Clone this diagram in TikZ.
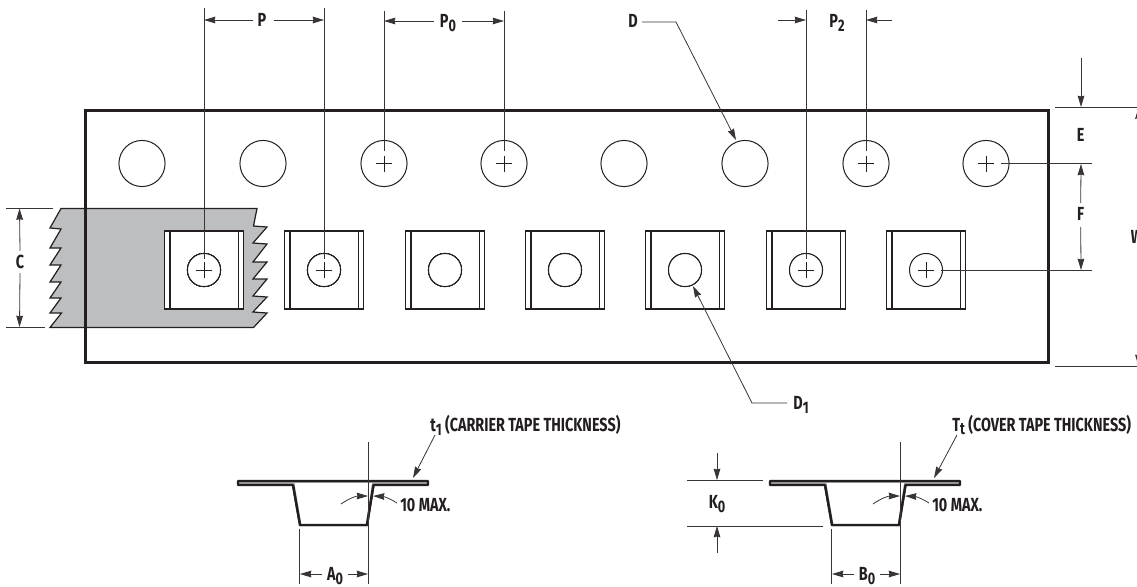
\documentclass[tikz,border=0pt]{standalone}
\usepackage{fontspec}
\setmainfont[FakeStretch=0.76]{Fira Sans}
\usetikzlibrary{arrows.meta}
\definecolor{ink}{HTML}{231F20}
\definecolor{tapegrey}{HTML}{BCBEC0}
\newcommand{\mysub}[1]{\raisebox{-2.8pt}{\fontsize{12.5pt}{13pt}\selectfont #1}}
\tikzset{
 x=0.75pt,y=-0.75pt,
 lab/.style={font=\fontsize{14.2pt}{15pt}\selectfont\bfseries,inner sep=0pt,text=ink},
 dim/.style={draw=ink!90,line width=0.6pt},
 tip/.style={-{Stealth[length=8.5pt,width=5pt,inset=0.6pt]}},
 arr/.style={dim,tip},
 hole/.style={circle,draw=ink,line width=0.75pt,fill=white,minimum size=34.6pt,inner sep=0pt},
 sub/.style={circle,draw=ink,line width=0.75pt,fill=white,minimum size=24.8pt,inner sep=0pt},
 pocket/.style={draw=ink,line width=0.9pt,fill=white},
 plus/.style={draw=ink,line width=0.6pt},
}
\newcommand{\mypocket}[1]{%
 \draw[pocket] (#1-39.5,231) rectangle (#1+39.5,309);
 \draw[draw=ink,line width=0.9pt] (#1-34,231) -- (#1-34,309) (#1+34.5,231) -- (#1+34.5,309);
 \draw[draw=ink,line width=1.2pt] (#1-34,231) -- (#1+34.5,231);
}
\newcommand{\myplus}[2]{\draw[plus] (#1-8,#2) -- (#1+8,#2) (#1,#2-8) -- (#1,#2+8);}
\newcommand{\myprofile}[1]{%
 \draw[draw=ink,fill=black!35,line width=1.7pt,line join=round] (#1,481) -- (#1+190,481) -- (#1+190,485) -- (#1+135.5,485) -- (#1+129,525) -- (#1+62,525) -- (#1+55,485) -- (#1,485) -- cycle;
 \fill[white] (#1+56.5,483) -- (#1+134,483) -- (#1+127.6,524) -- (#1+63.5,524) -- cycle;
 \draw[draw=ink,line width=1.7pt] (#1+55,485) -- (#1+62,525) -- (#1+129,525) -- (#1+135.5,485);
}
\newcommand{\myangle}[1]{%
 \draw[arr] (#1+103,504) .. controls (#1+110,499) and (#1+118,496) .. (#1+130,496);
 \draw[arr] (#1+159,503) .. controls (#1+153,499) and (#1+146,496.5) .. (#1+135,496);
}
\begin{document}
\begin{tikzpicture}
\path[use as bounding box] (0,0) rectangle (1137,586);
\clip (0,0) rectangle (1137,586);
\fill[white] (0,0) rectangle (1137,586);
% grey cover tape
\draw[draw=ink,line width=0.9pt,fill=tapegrey,line join=miter]
 (61,208.5) -- (257,208.5) -- (253.5,226) -- (267,227) -- (253,243) -- (267,244) -- (253,262) -- (267,262) -- (253,279) -- (267,279) -- (253,296) -- (267,297) -- (253,312) -- (267,313) -- (253.5,327.5) -- (50,327.5)
 -- (61.5,313) -- (50,313) -- (61,298) -- (50,298) -- (61,282) -- (50,282) -- (61,265) -- (50,265) -- (61,248) -- (50,248) -- (61,229) -- (50,228) -- cycle;
% extension lines for C
\draw[dim] (6,208) -- (53,208) (6,327.5) -- (45,327.5);
\node[lab] (c) at (20,262) {C};
\draw[arr] (c.north) ++(0,-4) -- (19.5,208.5);
\draw[arr] (c.south) ++(0,4) -- (19.5,327);
% tape outline
\draw[draw=ink,line width=2.2pt] (85.7,110.3) rectangle (1048.3,362.5);
% sprocket holes
\foreach \x/\n in {142/h1,263/h2,384/h3,504/h4,624/h5,745/h6,866/h7,986/h8}
 \node[hole] (\n) at (\x,163.5) {};
\foreach \x in {384,504,866,986} \myplus{\x}{163.5}
% pockets
\foreach \x in {204,324,445,565,685,806,926} \mypocket{\x}
\foreach \x/\n in {204/s1,324/s2,445/s3,565/s4,685/s5,806/s6,926/s7}
 \node[sub] (\n) at (\x,270) {};
\foreach \x in {204,324,806,926} \myplus{\x}{270}
% centre lines and extension lines
\draw[dim] (204,8) -- (204,259) (324,8) -- (324,259);
\draw[dim] (384,11) -- (384,151) (504,11) -- (504,151);
\draw[dim] (806,10) -- (806,259) (866,10) -- (866,151);
\draw[dim] (1001,163.5) -- (1092,163.5);
\draw[dim] (941,270.5) -- (1092,270.5);
\draw[dim] (1055,107) -- (1137,107);
\draw[dim] (1055,366) -- (1137,366);
% P
\node[lab] (p) at (262,20) {P};
\draw[arr] (p.west) ++(-4,0) -- (204,20);
\draw[arr] (p.east) ++(7,0) -- (324,20);
% P0
\node[lab] (p0) at (448,23) {P\mysub{0}};
\draw[arr] (434,21) -- (384,21);
\draw[arr] (462,21) -- (504,21);
% P2
\node[lab] (p2) at (837,23) {P\mysub{2}};
\draw[arr] (778,20) -- (806,20);
\draw[arr] (892,20) -- (866,20);
% D
\node[lab] (d) at (633,21) {D};
\coordinate (dk) at (676,22);
\coordinate (dt) at (736,140);
\draw[arr] (642,22) -- (dk) -- (dt);
% D1
\node[lab] (d1) at (801,405) {D\mysub{1}};
\coordinate (dk1) at (752,403);
\coordinate (dt1) at (693,286);
\draw[arr] (787,403) -- (dk1) -- (dt1);
% E F W
\draw[arr] (1081,58) -- (1081,107);
\node[lab] (e) at (1080.7,135) {E};
\node[lab] (f) at (1080.7,214) {F};
\draw[arr] (f.north) ++(0,-4) -- (1081,164);
\draw[arr] (f.south) ++(0,6) -- (1081,270);
\node[lab] (w) at (1137,237) {W};
\draw[arr] (1138.5,200) -- (1138.5,107.5);
\draw[arr] (1138.5,280) -- (1138.5,366);
% profiles
\myprofile{238}
\myprofile{770}
\myangle{238}
\myangle{770}
\draw[dim] (368,442) -- (368,584) (299.5,529) -- (299.5,584);
\draw[dim] (900.5,442) -- (900.5,584) (831.5,529) -- (831.5,584);
\node[lab] (a0) at (335,576) {A\mysub{0}};
\draw[arr] (322,574) -- (300,574);
\draw[arr] (348,574) -- (368,574);
\node[lab] (b0) at (867,576) {B\mysub{0}};
\draw[arr] (854,574) -- (832,574);
\draw[arr] (880,574) -- (900,574);
\node[lab,anchor=west] (m1) at (400,505) {10 MAX.};
\node[lab,anchor=west] (m2) at (932,505) {10 MAX.};
\node[lab,anchor=west] (t1) at (430,425) {t\mysub{1} (CARRIER TAPE THICKNESS)};
\node[lab,anchor=west] (tt) at (952,425) {T\mysub{t} (COVER TAPE THICKNESS)};
\coordinate (t1t) at (413,478); \coordinate (ttt) at (934,478);
\draw[arr] (435,435) -- (t1t);
\draw[arr] (957,435) -- (ttt);
% K0
\draw[dim] (687,480.5) -- (763,480.5) (687,526) -- (823,526);
\node[lab] (k0) at (717,504) {K\mysub{0}};
\draw[arr] (717,453) -- (717,480);
\draw[arr] (717,553) -- (717,526);
\end{tikzpicture}
\end{document}
